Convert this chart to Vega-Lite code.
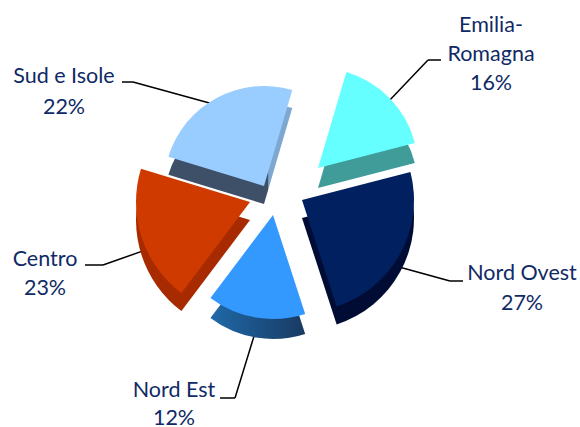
{"$schema":"https://vega.github.io/schema/vega-lite/v6.json","width":580,"height":427,"padding":0,"autosize":{"type":"none"},"background":"white","view":{"stroke":null},
"data":{"values":[{"name":"Emilia-Romagna","pct":16,"label":"Emilia-\nRomagna\n16%"},{"name":"Nord Ovest","pct":27,"label":"Nord Ovest\n27%"},{"name":"Nord Est","pct":12,"label":"Nord Est\n12%"},{"name":"Centro","pct":23,"label":"Centro\n23%"},{"name":"Sud e Isole","pct":22,"label":"Sud e Isole\n22%"}]},
"transform":[{"stack":"pct","groupby":[],"as":["pct_start","pct_end"]}],
"encoding":{"theta":{"field":"pct_start","type":"quantitative","scale":{"domain":[0,16,43,55,78,100],"range":[0.288,1.318,2.827,3.787,5.009,6.57]}},"theta2":{"field":"pct_end"}},
"layer":[
{"transform":[{"filter":"datum.name==='Sud e Isole'"}],"mark":{"type":"arc","theta":1.5708,"theta2":1.5708,"innerRadius":0,"outerRadius":11,"xOffset":-168,"yOffset":-131.5,"stroke":"#000000","strokeWidth":1.5,"fillOpacity":0},"encoding":{"theta":null,"theta2":null}},
{"transform":[{"filter":"datum.name==='Sud e Isole'"}],"mark":{"type":"arc","theta":1.839,"theta2":1.839,"innerRadius":0,"outerRadius":83,"xOffset":-157,"yOffset":-131.5,"stroke":"#000000","strokeWidth":1.5,"fillOpacity":0},"encoding":{"theta":null,"theta2":null}},
{"transform":[{"filter":"datum.name==='Emilia-Romagna'"}],"mark":{"type":"arc","theta":0.761,"theta2":0.761,"innerRadius":0,"outerRadius":58,"xOffset":98,"yOffset":-111.5,"stroke":"#000000","strokeWidth":1.5,"fillOpacity":0},"encoding":{"theta":null,"theta2":null}},
{"transform":[{"filter":"datum.name==='Emilia-Romagna'"}],"mark":{"type":"arc","theta":1.5708,"theta2":1.5708,"innerRadius":0,"outerRadius":13,"xOffset":138,"yOffset":-153.5,"stroke":"#000000","strokeWidth":1.5,"fillOpacity":0},"encoding":{"theta":null,"theta2":null}},
{"transform":[{"filter":"datum.name==='Nord Ovest'"}],"mark":{"type":"arc","theta":1.839,"theta2":1.839,"innerRadius":0,"outerRadius":56.5,"xOffset":105.5,"yOffset":52.5,"stroke":"#000000","strokeWidth":1.5,"fillOpacity":0},"encoding":{"theta":null,"theta2":null}},
{"transform":[{"filter":"datum.name==='Nord Ovest'"}],"mark":{"type":"arc","theta":1.5708,"theta2":1.5708,"innerRadius":0,"outerRadius":13,"xOffset":160,"yOffset":67.5,"stroke":"#000000","strokeWidth":1.5,"fillOpacity":0},"encoding":{"theta":null,"theta2":null}},
{"transform":[{"filter":"datum.name==='Centro'"}],"mark":{"type":"arc","theta":1.5708,"theta2":1.5708,"innerRadius":0,"outerRadius":18,"xOffset":-205,"yOffset":51.5,"stroke":"#000000","strokeWidth":1.5,"fillOpacity":0},"encoding":{"theta":null,"theta2":null}},
{"transform":[{"filter":"datum.name==='Centro'"}],"mark":{"type":"arc","theta":1.232,"theta2":1.232,"innerRadius":0,"outerRadius":44,"xOffset":-187,"yOffset":51.5,"stroke":"#000000","strokeWidth":1.5,"fillOpacity":0},"encoding":{"theta":null,"theta2":null}},
{"transform":[{"filter":"datum.name==='Nord Est'"}],"mark":{"type":"arc","theta":1.5708,"theta2":1.5708,"innerRadius":0,"outerRadius":15,"xOffset":-70,"yOffset":184.5,"stroke":"#000000","strokeWidth":1.5,"fillOpacity":0},"encoding":{"theta":null,"theta2":null}},
{"transform":[{"filter":"datum.name==='Nord Est'"}],"mark":{"type":"arc","theta":0.298,"theta2":0.298,"innerRadius":0,"outerRadius":68,"xOffset":-55,"yOffset":184.5,"stroke":"#000000","strokeWidth":1.5,"fillOpacity":0},"encoding":{"theta":null,"theta2":null}},
{"transform":[{"filter":"datum.name==='Emilia-Romagna'"}],"mark":{"type":"arc","outerRadius":100,"xOffset":28,"yOffset":-25.5,"fill":"#409c99"}},
{"transform":[{"filter":"datum.name==='Emilia-Romagna'"}],"mark":{"type":"arc","outerRadius":100,"xOffset":28,"yOffset":-45.5,"fill":"#66ffff"}},
{"transform":[{"filter":"datum.name==='Sud e Isole'"}],"mark":{"type":"arc","outerRadius":100,"xOffset":-26,"yOffset":-9.5,"fill":{"gradient":"linear","x1":0,"y1":0,"x2":1,"y2":0,"stops":[{"offset":0,"color":"#3d5068"},{"offset":0.8,"color":"#3d5068"},{"offset":0.81,"color":"#7fa8d0"},{"offset":1,"color":"#7fa8d0"}]}}},
{"transform":[{"filter":"datum.name==='Sud e Isole'"}],"mark":{"type":"arc","outerRadius":100,"xOffset":-26,"yOffset":-27.5,"fill":"#99ccff"}},
{"transform":[{"filter":"datum.name==='Centro'"}],"mark":{"type":"arc","outerRadius":114,"xOffset":-40,"yOffset":6.5,"fill":"#a82a00"}},
{"transform":[{"filter":"datum.name==='Centro'"}],"mark":{"type":"arc","outerRadius":114,"xOffset":-40,"yOffset":-11.5,"fill":"#cf3a00"}},
{"transform":[{"filter":"datum.name==='Nord Ovest'"}],"mark":{"type":"arc","outerRadius":112,"xOffset":12,"yOffset":4.5,"fill":"#000c33"}},
{"transform":[{"filter":"datum.name==='Nord Ovest'"}],"mark":{"type":"arc","outerRadius":112,"xOffset":12,"yOffset":-13.5,"fill":"#002060"}},
{"transform":[{"filter":"datum.name==='Nord Est'"}],"mark":{"type":"arc","outerRadius":104,"xOffset":-17,"yOffset":21.5,"fill":{"gradient":"linear","x1":0,"y1":0,"x2":1,"y2":0,"stops":[{"offset":0,"color":"#1f69a8"},{"offset":1,"color":"#183a62"}]}}},
{"transform":[{"filter":"datum.name==='Nord Est'"}],"mark":{"type":"arc","outerRadius":104,"xOffset":-17,"yOffset":1.5,"fill":"#3399ff"}},
{"transform":[{"filter":"datum.name==='Emilia-Romagna'"}],"mark":{"type":"text","font":"Lato","fontSize":21.5,"color":"#0f2a66","lineBreak":"\n","lineHeight":29,"align":"center","baseline":"middle","xOffset":201,"yOffset":-187.5},"encoding":{"theta":null,"theta2":null,"text":{"field":"label"}}},
{"transform":[{"filter":"datum.name==='Nord Ovest'"}],"mark":{"type":"text","font":"Lato","fontSize":21.5,"color":"#0f2a66","lineBreak":"\n","lineHeight":30,"align":"center","baseline":"middle","xOffset":232,"yOffset":60.5},"encoding":{"theta":null,"theta2":null,"text":{"field":"label"}}},
{"transform":[{"filter":"datum.name==='Nord Est'"}],"mark":{"type":"text","font":"Lato","fontSize":21.5,"color":"#0f2a66","lineBreak":"\n","lineHeight":28,"align":"center","baseline":"middle","xOffset":-116,"yOffset":177},"encoding":{"theta":null,"theta2":null,"text":{"field":"label"}}},
{"transform":[{"filter":"datum.name==='Centro'"}],"mark":{"type":"text","font":"Lato","fontSize":21.5,"color":"#0f2a66","lineBreak":"\n","lineHeight":29,"align":"center","baseline":"middle","xOffset":-245,"yOffset":46},"encoding":{"theta":null,"theta2":null,"text":{"field":"label"}}},
{"transform":[{"filter":"datum.name==='Sud e Isole'"}],"mark":{"type":"text","font":"Lato","fontSize":21.5,"color":"#0f2a66","lineBreak":"\n","lineHeight":31,"align":"center","baseline":"middle","xOffset":-226,"yOffset":-137},"encoding":{"theta":null,"theta2":null,"text":{"field":"label"}}}
]}
